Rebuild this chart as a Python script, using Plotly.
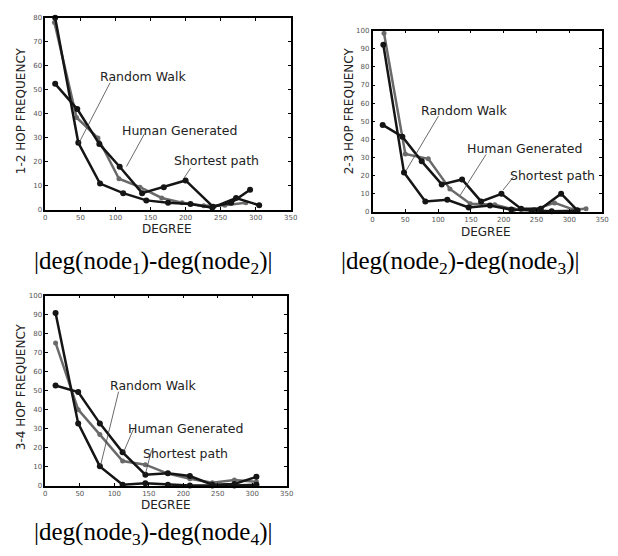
import plotly.graph_objects as go

W, H = 618, 556

# ---------------- data ----------------
# Panel 1: 1-2 hop
p1_rw_x = [14, 47, 78, 111, 144, 175, 207, 238, 272, 305]
p1_rw_y = [80, 28, 11, 7, 4, 3, 2.5, 1, 5, 2]
p1_hg_x = [14, 45.5, 77, 106, 138, 169, 200, 239, 265, 292]
p1_hg_y = [52.5, 42, 27.5, 18, 7, 9.5, 12.3, 1.4, 3, 8.4]
p1_sp_x = [13, 44.5, 75, 105, 135, 166, 195, 226, 256, 286]
p1_sp_y = [78, 38.5, 30, 13, 9.5, 5, 3, 1.8, 2, 3]

# Panel 2: 2-3 hop
p2_rw_x = [16.5, 48, 80.5, 114, 146.5, 179, 211.5, 242.5, 273, 312.5]
p2_rw_y = [92.2, 21.7, 5.8, 6.7, 2.5, 3.6, 1.3, 0.7, 0.4, 0.7]
p2_hg_x = [15.5, 45.5, 75, 105.5, 136.5, 165.5, 196.5, 226.5, 256.5, 287.5, 312]
p2_hg_y = [48, 41.5, 27.9, 15.2, 17.9, 5.8, 10, 1.8, 1.8, 10.1, 1]
p2_sp_x = [17.5, 50, 85, 118, 149, 186.5, 215.5, 246.5, 277.5, 306.5, 325.5]
p2_sp_y = [98.5, 32, 29.3, 12.7, 4.5, 4, 1.3, 1.3, 5, 1.3, 1.8]

# Panel 3: 3-4 hop
p3_rw_x = [14.8, 47.6, 79, 112, 145, 177.6, 209.5, 242, 274, 306]
p3_rw_y = [90.9, 32.9, 10.3, 0.7, 1.4, 0.7, 0.2, 0.2, 0.2, 0.7]
p3_hg_x = [14.8, 47.6, 79, 112, 145, 177.6, 209.5, 242, 274, 306]
p3_hg_y = [52.8, 49.4, 32.9, 17.7, 5.9, 6.7, 5.2, 0.7, 1, 4.8]
p3_sp_x = [14.8, 47.6, 79, 112, 145, 177.6, 209.5, 242, 274, 306]
p3_sp_y = [75.2, 40.1, 27, 13.1, 11.2, 6.5, 3.8, 1.7, 3.1, 2.2]

x_ticks = [0, 50, 100, 150, 200, 250, 300, 350]
y_title = ["1-2 HOP FREQUENCY", "2-3 HOP FREQUENCY", "3-4 HOP FREQUENCY"]
x_title = "DEGREE"
labels = ["Random Walk", "Human Generated", "Shortest path"]
captions = ["|deg(node<sub>1</sub>)-deg(node<sub>2</sub>)|",
            "|deg(node<sub>2</sub>)-deg(node<sub>3</sub>)|",
            "|deg(node<sub>3</sub>)-deg(node<sub>4</sub>)|"]

# ---------------- layout helpers ----------------
def px(x):
    return x / W

def py(y):
    return 1 - y / H

BLACK = "#151515"
GREY = "#6a6a6a"

fig = go.Figure()

panels = [
    (p1_rw_x, p1_rw_y, p1_hg_x, p1_hg_y, p1_sp_x, p1_sp_y),
    (p2_rw_x, p2_rw_y, p2_hg_x, p2_hg_y, p2_sp_x, p2_sp_y),
    (p3_rw_x, p3_rw_y, p3_hg_x, p3_hg_y, p3_sp_x, p3_sp_y),
]
for i, (rx, ry, hx, hy, sx, sy) in enumerate(panels):
    suf = "" if i == 0 else str(i + 1)
    xa, ya = "x" + suf, "y" + suf
    fig.add_trace(go.Scatter(x=sx, y=sy, mode="lines+markers", xaxis=xa, yaxis=ya,
                             line=dict(color=GREY, width=2.5), marker=dict(color=GREY, size=5),
                             showlegend=False, cliponaxis=False))
    fig.add_trace(go.Scatter(x=rx, y=ry, mode="lines+markers", xaxis=xa, yaxis=ya,
                             line=dict(color=BLACK, width=2.5), marker=dict(color=BLACK, size=6),
                             showlegend=False, cliponaxis=False))
    fig.add_trace(go.Scatter(x=hx, y=hy, mode="lines+markers", xaxis=xa, yaxis=ya,
                             line=dict(color=BLACK, width=2.5), marker=dict(color=BLACK, size=6),
                             showlegend=False, cliponaxis=False))

# plot area boxes in pixels: (left, right, top, bottom)
boxes = [(44, 293, 14, 209), (376, 609, 27, 211), (44, 289, 296, 489)]
y_max = [80, 100, 100]
y_dtick = [10, 10, 10]

axis_common = dict(showgrid=False, zeroline=False, showline=True, linecolor="black", linewidth=1.5,
                   mirror="ticks", ticks="inside", ticklen=3, tickwidth=1, tickcolor="black",
                   tickfont=dict(family="DejaVu Sans", size=7, color="#555"))

for i, (l, r, t, b) in enumerate(boxes):
    suf = "" if i == 0 else str(i + 1)
    fig.layout["xaxis" + suf] = dict(axis_common, domain=[px(l), px(r)], range=[0, 350],
                                      tickvals=x_ticks, anchor="y" + suf)
    fig.layout["yaxis" + suf] = dict(axis_common, domain=[py(b), py(t)], range=[0, y_max[i]],
                                      dtick=y_dtick[i], anchor="x" + suf)

anns = []
# axis titles (pixel centres)
ytitle_pos = [(20, 108), (353, 108), (20, 388)]
xtitle_pos = [(167, 228), (491, 231), (166, 508)]
for i in range(3):
    anns.append(dict(text=y_title[i], x=px(ytitle_pos[i][0]), y=py(ytitle_pos[i][1]), xref="paper",
                     yref="paper", showarrow=False, textangle=-90, xanchor="center", yanchor="middle",
                     font=dict(family="DejaVu Sans", size=12, color="#222")))
    anns.append(dict(text=x_title, x=px(xtitle_pos[i][0]), y=py(xtitle_pos[i][1]), xref="paper",
                     yref="paper", showarrow=False, xanchor="center", yanchor="middle",
                     font=dict(family="DejaVu Sans", size=12, color="#222")))

# in-plot labels (pixel centres) and leader lines (data coords)
label_pos = [
    [(143, 74), (180, 128), (218, 159)],
    [(469, 108), (530, 147), (559, 174)],
    [(153, 387), (186, 431), (186, 456)],
]
leaders = [
    [((92.4, 53), (47.4, 27.6)), ((141.5, 31.8), (115.8, 18.1)), ((207.2, 17.4), (197.8, 13.3))],
    [((100.5, 52.9), (51.5, 23)), ((173, 31.7), (134, 9.4)), ((215, 19.4), (199, 12.1))],
    [((106.2, 49.6), (80, 10.8)), ((127.6, 29.8), (113.3, 17.7)), ((153.8, 18.6), (145.2, 6.5))],
]
shapes = []
for i in range(3):
    suf = "" if i == 0 else str(i + 1)
    for j in range(3):
        anns.append(dict(text=labels[j], x=px(label_pos[i][j][0]), y=py(label_pos[i][j][1]),
                         xref="paper", yref="paper", showarrow=False, xanchor="center", yanchor="middle",
                         font=dict(family="DejaVu Sans", size=12.5, color="#222")))
        (x0, y0), (x1, y1) = leaders[i][j]
        shapes.append(dict(type="line", xref="x" + suf, yref="y" + suf, x0=x0, y0=y0, x1=x1, y1=y1,
                           line=dict(color="#444", width=0.8)))

# captions
cap_pos = [(154, 262), (465, 262), (154, 537)]
for i in range(3):
    anns.append(dict(text=captions[i], x=px(cap_pos[i][0]), y=py(cap_pos[i][1]), xref="paper",
                     yref="paper", showarrow=False, xanchor="center", yanchor="middle",
                     font=dict(family="Liberation Serif", size=25, color="black")))

fig.update_layout(width=W, height=H, margin=dict(l=0, r=0, t=0, b=0),
                  paper_bgcolor="white", plot_bgcolor="white",
                  annotations=anns, shapes=shapes, showlegend=False)

fig.write_html("out.html", config={"displayModeBar": False},
               post_script="document.body.style.margin='0';document.body.style.overflow='hidden';")
